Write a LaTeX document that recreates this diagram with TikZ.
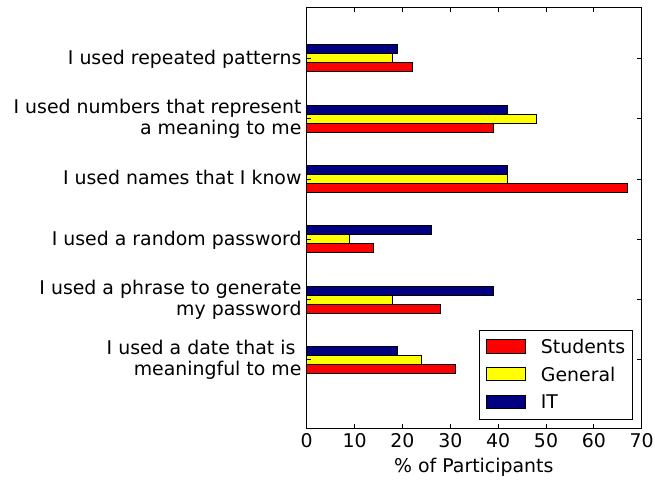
\documentclass[tikz,border=0pt]{standalone}
\usepackage{fontspec}
\setmainfont{DejaVu Sans}

\definecolor{stred}{RGB}{255,0,0}
\definecolor{genyellow}{RGB}{255,255,0}
\definecolor{itblue}{RGB}{0,0,128}

\begin{document}
\begin{tikzpicture}[x=1pt, y=-1pt,
    bar/.style={draw=black, line width=0.8pt},
    lbl/.style={font=\fontsize{18.9}{21}\selectfont, inner sep=0pt},
    tick/.style={line width=0.8pt}]
  \useasboundingbox (0,0) rectangle (655,481);

  \coordinate (O) at (306.7,428.3);
  \coordinate (T) at (641.7,7.3);

  % bars, one group per answer (students, general, IT)
  \begin{scope}[shift={(306.7,0)}, x=4.786pt]
    \foreach \c/\s/\g/\t in {58.3/22/18/19, 118.6/39/48/42, 178.9/67/42/42,
                             239.2/14/9/26, 299.5/28/18/39, 359.8/31/24/19}
    {
      \draw[bar, fill=stred] (0,\c+4.5) rectangle (\s,\c+13.5);
      \draw[bar, fill=genyellow] (0,\c-4.5) rectangle (\g,\c+4.5);
      \draw[bar, fill=itblue] (0,\c-13.5) rectangle (\t,\c-4.5);
      \draw[tick] (0,\c) -- ++(4.5pt,0pt);
      \draw[tick] (70,\c) -- ++(-4.5pt,0pt);
    }
    \foreach \v in {0,10,...,70}
    {
      \draw[tick] (\v,428.3) -- ++(0,-4.5);
      \draw[tick] (\v,7.3) -- ++(0,4.5);
      \node[lbl, anchor=base] (x\v) at (\v,447.7) {\v};
    }
  \end{scope}

  \draw[line width=1.1pt] (O) rectangle (T);

  % answers
  \node[lbl, anchor=base east] (patterns) at (301.7,64.3) {I used repeated patterns};
  \node[lbl, anchor=base east, align=right] (numbers) at (301.7,134.6)
    {I used numbers that represent\\a meaning to me};
  \node[lbl, anchor=base east] (names) at (301.7,184.9) {I used names that I know};
  \node[lbl, anchor=base east] (random) at (301.7,245.2) {I used a random password};
  \node[lbl, anchor=base east, align=right] (phrase) at (301.7,315.5)
    {I used a phrase to generate\\my password};
  \node[lbl, anchor=base east, align=right] (date) at (301.7,375.8)
    {I used a date that is\rule{0.32em}{0pt}\\meaningful to me};

  \node[lbl, anchor=base] (xlabel) at (473.8,472.5) {\% of Participants};

  % legend
  \draw[line width=0.8pt] (479.3,330.7) rectangle (632.3,419.3);
  \foreach \col/\name/\y in {stred/Students/346.2, genyellow/General/374, itblue/IT/401.7}
  {
    \draw[bar, fill=\col] (486.7,\y-6.8) rectangle (525.3,\y+6.8);
    \node[lbl, anchor=base west] (leg-\name) at (540.7,\y+7) {\name};
  }
\end{tikzpicture}
\end{document}
